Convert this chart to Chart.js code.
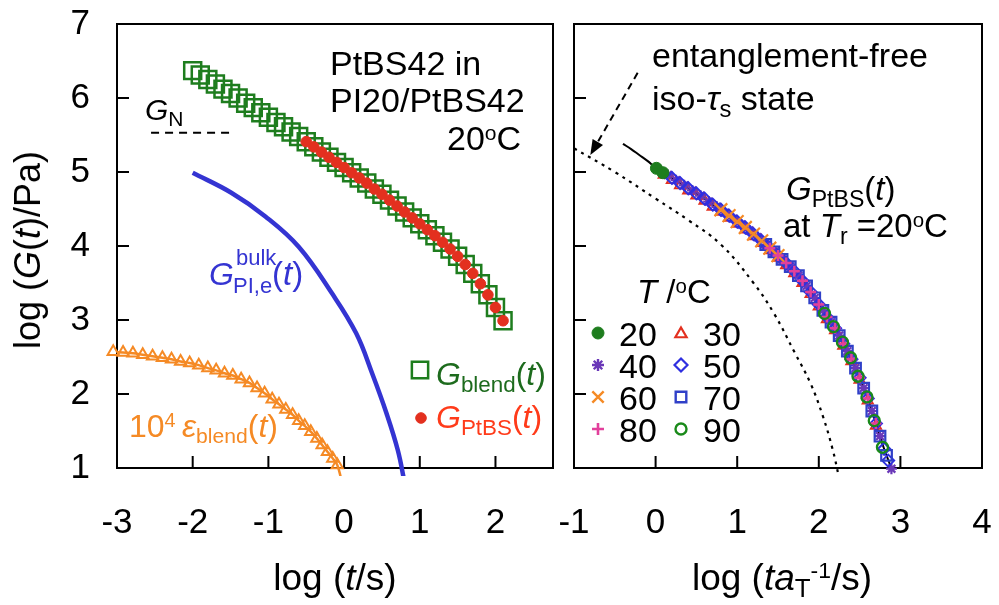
<!DOCTYPE html>
<html><head><meta charset="utf-8">
<script src="https://cdn.jsdelivr.net/npm/chart.js@4.4.1/dist/chart.umd.min.js"></script>
<style>
html,body{margin:0;padding:0;background:#fff;}
#wrap{position:relative;width:999px;height:605px;overflow:hidden;background:#fff;font-family:'Liberation Sans',Arial,sans-serif;}
canvas{position:absolute;top:0;}
#c1{left:0;width:560px;height:605px;}
#c2{left:540px;width:459px;height:605px;}
.t{position:absolute;line-height:1;white-space:nowrap;color:#000;}
.sb{font-size:0.7em;position:relative;top:0.3em;}
.sb2{font-size:0.66em;position:relative;top:0.3em;}
.sp{font-size:0.62em;position:relative;top:-0.5em;}
</style></head>
<body><div id="wrap"><canvas id="c1" width="560" height="605"></canvas><canvas id="c2" width="459" height="605"></canvas></div>
<script>
// ---------- tick labels ----------
const xTicksLeft = [-3, -2, -1, 0, 1, 2];
const xTicksRight = [-1, 0, 1, 2, 3, 4];
const yTicks = [1, 2, 3, 4, 5, 6, 7];

// ---------- left panel data (log t, log G) ----------
const blendLogT = [-2.0,-1.9,-1.8,-1.7,-1.6,-1.5,-1.4,-1.3,-1.2,-1.1,-1.0,-0.9,-0.8,-0.7,-0.6,-0.5,-0.4,-0.3,-0.2,-0.1,0.0,0.1,0.2,0.3,0.4,0.5,0.6,0.7,0.8,0.9,1.0,1.1,1.2,1.3,1.4,1.5,1.6,1.7,1.8,1.9,2.0,2.1];
const blendLogG = [6.37,6.31,6.25,6.19,6.12,6.06,6.00,5.93,5.87,5.80,5.74,5.67,5.61,5.54,5.48,5.41,5.34,5.27,5.20,5.13,5.06,4.99,4.92,4.85,4.77,4.70,4.62,4.54,4.46,4.38,4.30,4.22,4.14,4.05,3.96,3.86,3.75,3.63,3.49,3.34,3.17,2.99];
const ptbsLogT = [-0.5,-0.4,-0.3,-0.2,-0.1,0.0,0.1,0.2,0.3,0.4,0.5,0.6,0.7,0.8,0.9,1.0,1.1,1.2,1.3,1.4,1.5,1.6,1.7,1.8,1.9,2.0,2.1];
const ptbsLogG = [5.41,5.34,5.27,5.20,5.13,5.06,4.99,4.92,4.85,4.77,4.70,4.62,4.54,4.46,4.38,4.30,4.22,4.14,4.05,3.96,3.86,3.75,3.63,3.49,3.34,3.17,2.99];
const piBulkLogT = [-2.0,-1.49,-1.04,-0.6,-0.16,0.16,0.37,0.56,0.71,0.80];
const piBulkLogG = [4.99,4.72,4.40,3.99,3.36,2.82,2.28,1.74,1.24,0.80];
const epsLogT = [-3.05,-2.92,-2.79,-2.66,-2.53,-2.40,-2.28,-2.16,-2.04,-1.92,-1.80,-1.69,-1.58,-1.47,-1.36,-1.25,-1.15,-1.05,-0.95,-0.86,-0.77,-0.68,-0.60,-0.52,-0.44,-0.36,-0.29,-0.22,-0.15,-0.09];
const epsLogVal = [2.57,2.56,2.55,2.53,2.51,2.49,2.47,2.44,2.42,2.39,2.35,2.32,2.28,2.25,2.20,2.15,2.08,2.01,1.93,1.86,1.79,1.72,1.64,1.57,1.49,1.40,1.31,1.22,1.13,1.04];
const epsLineEnd = [-0.04, 0.86];
const gNLogT = [-2.55, -1.5];
const gNLogG = [5.53, 5.53];

// ---------- right panel data (log t/aT, log G) ----------
const masterLogT = [-0.4,-0.3,-0.2,-0.1,0.0,0.1,0.2,0.3,0.4,0.5,0.6,0.7,0.8,0.9,1.0,1.1,1.2,1.3,1.4,1.5,1.6,1.7,1.8,1.9,2.0,2.1,2.2,2.3,2.4,2.5,2.6,2.7,2.8,2.9];
const masterLogG = [5.38,5.31,5.23,5.15,5.06,4.99,4.92,4.85,4.78,4.71,4.64,4.56,4.49,4.41,4.33,4.25,4.16,4.07,3.97,3.87,3.77,3.66,3.53,3.38,3.21,3.04,2.89,2.68,2.47,2.22,1.94,1.60,1.26,0.97];
const isoLogT = [-1.0,-0.5,0.0,0.4,0.8,1.2,1.45,1.7,1.9,2.05,2.17,2.25];
const isoLogG = [5.32,5.00,4.64,4.35,4.02,3.50,3.09,2.57,2.14,1.70,1.25,0.86];
const arrowFrom = [-0.22, 6.34];
const arrowTo = [-0.80, 5.23];

const t20T = [0.01, 0.09];
const t20G = [5.05, 4.99];
const t30T = [0.1,0.2,0.3,0.4,0.5,0.6,0.7,0.8,0.9,1.0,1.1,1.2,1.3,1.4,1.5,1.6,1.7,1.8,1.9,2.0,2.1,2.2,2.3,2.4,2.5,2.6,2.7];
const t30G = [4.96,4.89,4.82,4.75,4.68,4.61,4.53,4.46,4.38,4.30,4.22,4.13,4.04,3.94,3.84,3.74,3.63,3.50,3.35,3.18,3.01,2.86,2.65,2.44,2.19,1.91,1.57];
const t40T = [0.15,0.25,0.35,0.45,0.55,0.65,0.75,0.85,0.95,1.05,1.15,1.25,1.35,1.45,1.55,1.65,1.75,1.85,1.95,2.05,2.15,2.25,2.35,2.45,2.55,2.65,2.75,2.89];
const t40G = [4.96,4.89,4.82,4.75,4.68,4.60,4.53,4.45,4.37,4.29,4.21,4.12,4.02,3.92,3.82,3.72,3.60,3.46,3.30,3.13,2.97,2.79,2.58,2.35,2.08,1.77,1.43,0.99];
const t50T = [0.2,0.3,0.4,0.5,0.6,0.7,0.8,0.9,1.0,1.1,1.2,1.3,1.4,1.5,1.6,1.7,1.8,1.9,2.0,2.1,2.2,2.3,2.4,2.5,2.6,2.7,2.8,2.85];
const t50G = [4.92,4.85,4.78,4.71,4.64,4.56,4.49,4.41,4.33,4.25,4.16,4.07,3.97,3.87,3.77,3.66,3.53,3.38,3.21,3.04,2.89,2.68,2.47,2.22,1.94,1.60,1.26,1.10];
const t60T = [0.8,0.9,1.0,1.1,1.2,1.3,1.4,1.5];
const t60G = [4.49,4.41,4.33,4.25,4.16,4.07,3.97,3.87];
const t70T = [1.35,1.45,1.55,1.65,1.75,1.85,1.95,2.05,2.15,2.25,2.35,2.45,2.55,2.65,2.75,2.83];
const t70G = [4.02,3.92,3.82,3.72,3.60,3.46,3.30,3.13,2.97,2.79,2.58,2.35,2.08,1.77,1.43,1.17];
const t80T = [1.4,1.5,1.6,1.7,1.8,1.9,2.0,2.1,2.2,2.3,2.4,2.5,2.6,2.7];
const t80G = [3.97,3.87,3.77,3.66,3.53,3.38,3.21,3.04,2.89,2.68,2.47,2.22,1.94,1.60];
const t90T = [2.07,2.18,2.29,2.39,2.48,2.59,2.68,2.78];
const t90G = [3.09,2.91,2.70,2.49,2.24,1.96,1.64,1.28];

// ---------- helpers ----------
const FONT = "'Liberation Sans', Arial, sans-serif";
const pts = (xs, ys) => xs.map((x, i) => ({x: x, y: ys[i]}));
const C = {green:'#1e7d1e', red:'#e3301f', blue:'#3434d2', orange:'#f58a25', purple:'#6a38b8',
           blue2:'#2f2fe0', blue3:'#3040c8', pink:'#e2409c', green2:'#1a8a1a', black:'#000'};
const hiddenTicks = len => ({display:true, drawOnChartArea:false, drawTicks:true, tickLength:len, color:'rgba(0,0,0,0)'});

function xScale(min, max, ticks) {
  return {type:'linear', min:min, max:max, position:'bottom',
    afterFit: s => { s.height = 137; },
    afterBuildTicks: s => { s.ticks = ticks.map(v => ({value:v})); },
    grid:hiddenTicks(34), border:{display:false},
    ticks:{font:{family:FONT, size:35}, color:'#000', padding:0, maxRotation:0, autoSkip:false, callback: v => String(v)}};
}
function yScale(width, show) {
  return {type:'linear', min:1, max:7,
    afterFit: s => { s.width = width; },
    afterBuildTicks: s => { s.ticks = yTicks.map(v => ({value:v})); },
    grid:hiddenTicks(27), border:{display:false},
    ticks:{display:show, font:{family:FONT, size:35}, color:'#000', padding:0, autoSkip:false, callback: v => String(v)}};
}
const frame = {
  id:'frame',
  beforeDatasetsDraw(chart) {
    const {ctx, chartArea:a, scales:{x, y}} = chart;
    ctx.save(); ctx.strokeStyle = '#000'; ctx.lineWidth = 2;
    ctx.strokeRect(a.left, a.top, a.right - a.left, a.bottom - a.top);
    ctx.beginPath();
    x.ticks.forEach(t => { const p = x.getPixelForValue(t.value); if (p > a.left + 3 && p < a.right - 3) { ctx.moveTo(p, a.bottom); ctx.lineTo(p, a.bottom - 12); } });
    y.ticks.forEach(t => { const p = y.getPixelForValue(t.value); if (p > a.top + 3 && p < a.bottom - 3) { ctx.moveTo(a.left, p); ctx.lineTo(a.left + 12, p); } });
    ctx.stroke(); ctx.restore();
  }
};
function legendPlugin(items, offsetX) {
  return {id:'leg', afterDatasetsDraw(chart) {
    const ctx = chart.ctx; ctx.save();
    items.forEach(it => {
      ctx.strokeStyle = it.color; ctx.fillStyle = it.fill ? it.color : 'rgba(0,0,0,0)'; ctx.lineWidth = it.bw;
      Chart.helpers.drawPoint(ctx, {pointStyle:it.style, radius:it.r, borderWidth:it.bw, rotation:0}, it.x - offsetX, it.y);
    });
    ctx.restore();
  }};
}
const arrowPlugin = {id:'arrow', afterDatasetsDraw(chart) {
  const {ctx, scales:{x, y}} = chart;
  const x0 = x.getPixelForValue(arrowFrom[0]), y0 = y.getPixelForValue(arrowFrom[1]);
  const x1 = x.getPixelForValue(arrowTo[0]), y1 = y.getPixelForValue(arrowTo[1]);
  const ang = Math.atan2(y1 - y0, x1 - x0), L = 15, W = 6;
  const bx = x1 - Math.cos(ang) * L, by = y1 - Math.sin(ang) * L;
  ctx.save(); ctx.strokeStyle = '#000'; ctx.fillStyle = '#000'; ctx.lineWidth = 2; ctx.setLineDash([7, 5]);
  ctx.beginPath(); ctx.moveTo(x0, y0); ctx.lineTo(bx, by); ctx.stroke();
  ctx.setLineDash([]); ctx.beginPath(); ctx.moveTo(x1, y1);
  ctx.lineTo(bx + Math.sin(ang) * W, by - Math.cos(ang) * W);
  ctx.lineTo(bx - Math.sin(ang) * W, by + Math.cos(ang) * W);
  ctx.closePath(); ctx.fill(); ctx.restore();
}};
const base = {responsive:false, animation:false, events:[], plugins:{legend:{display:false}, tooltip:{enabled:false}}};
const lineClip = {left:0, right:0, top:0, bottom:8};
function marks(xs, ys, style, color, r, bw, fill) {
  return {data:pts(xs, ys), showLine:false, pointStyle:style, pointRadius:r, pointBorderWidth:bw,
    pointBorderColor:color, pointBackgroundColor: fill ? color : 'rgba(0,0,0,0)', clip:14};
}
function line(xs, ys, color, w, dash) {
  return {data:pts(xs, ys), showLine:true, pointRadius:0, borderColor:color, borderWidth:w,
    borderDash: dash || [], tension:0.4, clip:lineClip, fill:false};
}

// ---------- left chart ----------
new Chart(document.getElementById('c1'), {
  type:'scatter',
  data:{datasets:[
    marks(ptbsLogT, ptbsLogG, 'circle', C.red, 5.3, 1, true),
    marks(blendLogT, blendLogG, 'rect', C.green, 12, 2.5, false),
    Object.assign(line(gNLogT, gNLogG, '#000', 2, [8, 6]), {tension:0}),
    line(piBulkLogT, piBulkLogG, C.blue, 4.5),
    marks(epsLogT, epsLogVal, 'triangle', C.orange, 6.5, 2, false),
    line(epsLogT.concat([epsLineEnd[0]]), epsLogVal.concat([epsLineEnd[1]]), C.orange, 2.5)
  ]},
  options:Object.assign({}, base, {
    layout:{autoPadding:false, padding:{left:0, right:7, top:24, bottom:0}},
    scales:{x:xScale(-3, 2.76, xTicksLeft), y:yScale(117, true)}
  }),
  plugins:[frame, legendPlugin([
    {style:'rect', r:11.5, bw:2.5, color:C.green, x:420, y:370},
    {style:'circle', r:5.3, bw:1, color:C.red, fill:true, x:421, y:418}
  ], 0)]
});

// ---------- right chart ----------
new Chart(document.getElementById('c2'), {
  type:'scatter',
  data:{datasets:[
    marks(t20T, t20G, 'circle', C.green, 6, 1, true),
    marks(t90T, t90G, 'circle', C.green2, 5.5, 2.3, false),
    marks(t80T, t80G, 'cross', C.pink, 5.5, 2.5, false),
    marks(t60T, t60G, 'crossRot', C.orange, 9, 2.2, false),
    marks(t70T, t70G, 'rect', C.blue3, 7.5, 2.2, false),
    marks(t50T, t50G, 'rectRot', C.blue2, 6, 2, false),
    marks(t40T, t40G, 'star', C.purple, 5.5, 2.2, false),
    marks(t30T, t30G, 'triangle', C.red, 6, 1.8, false),
    line(masterLogT, masterLogG, '#000', 2),
    line(isoLogT, isoLogG, '#000', 2.2, [3, 5])
  ]},
  options:Object.assign({}, base, {
    layout:{autoPadding:false, padding:{left:0, right:17, top:24, bottom:0}},
    scales:{x:xScale(-1, 4, xTicksRight), y:yScale(34, false)}
  }),
  plugins:[frame, arrowPlugin, legendPlugin([
    {style:'circle', r:6, bw:1, color:C.green, fill:true, x:598, y:333},
    {style:'triangle', r:6.5, bw:2.2, color:C.red, x:681, y:334},
    {style:'star', r:6, bw:2.4, color:C.purple, x:598, y:365},
    {style:'rectRot', r:6.5, bw:2.2, color:C.blue2, x:681, y:365},
    {style:'crossRot', r:8, bw:2.4, color:C.orange, x:598, y:397},
    {style:'rect', r:7.5, bw:2.4, color:C.blue3, x:681, y:397},
    {style:'cross', r:6, bw:2.6, color:C.pink, x:598, y:429},
    {style:'circle', r:5.5, bw:2.4, color:C.green2, x:681, y:429}
  ], 540)]
});

// ---------- text ----------
const wrap = document.getElementById('wrap');
function txt(html, x, baseLine, size, color, extra) {
  const d = document.createElement('div'); d.className = 't'; d.innerHTML = html;
  d.style.left = x + 'px'; d.style.top = (baseLine - 0.8465 * size) + 'px'; d.style.fontSize = size + 'px';
  if (color) d.style.color = color;
  if (extra) Object.assign(d.style, extra);
  wrap.appendChild(d); return d;
}
const ctr = {transform:'translateX(-50%)'};
// axis titles
txt('log (<i>t</i>/s)', 335, 590, 37, '#000', ctr);
txt('log (<i>ta</i><span class="sb">T</span><span class="sp">-1</span>/s)', 782, 590, 37, '#000', ctr);
const yt = txt('log (<i>G</i>(<i>t</i>)/Pa)', 28, 0, 36, '#000');
yt.style.top = '250px'; yt.style.transform = 'translate(-50%,-50%) rotate(-90deg)';
// left annotations
txt('PtBS42 in', 330, 75, 34);
txt('PI20/PtBS42', 330, 112, 34);
txt('20<span class="sp">o</span>C', 447, 150, 34);
txt('<i>G</i><span class="sb">N</span>', 145, 120, 30);
txt('<i>G</i>', 209, 285, 32, C.blue);
txt('bulk', 236, 266, 22, C.blue);
txt('PI,e', 233, 294, 22, C.blue);
txt('(<i>t</i>)', 272, 285, 33, C.blue);
txt('10<span class="sp">4</span>&thinsp;<i>ε</i><span class="sb2">blend</span>(<i>t</i>)', 129, 437, 32, C.orange);
txt('<i>G</i><span class="sb">blend</span>(<i>t</i>)', 436, 385, 32, '#1d6b1d');
txt('<i>G</i><span class="sb">PtBS</span>(<i>t</i>)', 436, 428, 32, '#ff3b1a');
// right annotations
txt('entanglement-free', 652, 67, 34);
txt('iso-<i>τ</i><span class="sb">s</span> state', 652, 110, 34);
txt('<i>G</i><span class="sb">PtBS</span>(<i>t</i>)', 786, 200, 33);
txt('at <i>T</i><span class="sb">r</span> =20<span class="sp">o</span>C', 783, 237, 33);
txt('<i>T</i> /<span class="sp">o</span>C', 637, 303, 33);
const legT = [['20','30'],['40','50'],['60','70'],['80','90']];
const legBase = [346, 378, 410, 442];
legT.forEach((row, i) => { txt(row[0], 619, legBase[i], 34); txt(row[1], 703, legBase[i], 34); });
</script>
</body></html>
